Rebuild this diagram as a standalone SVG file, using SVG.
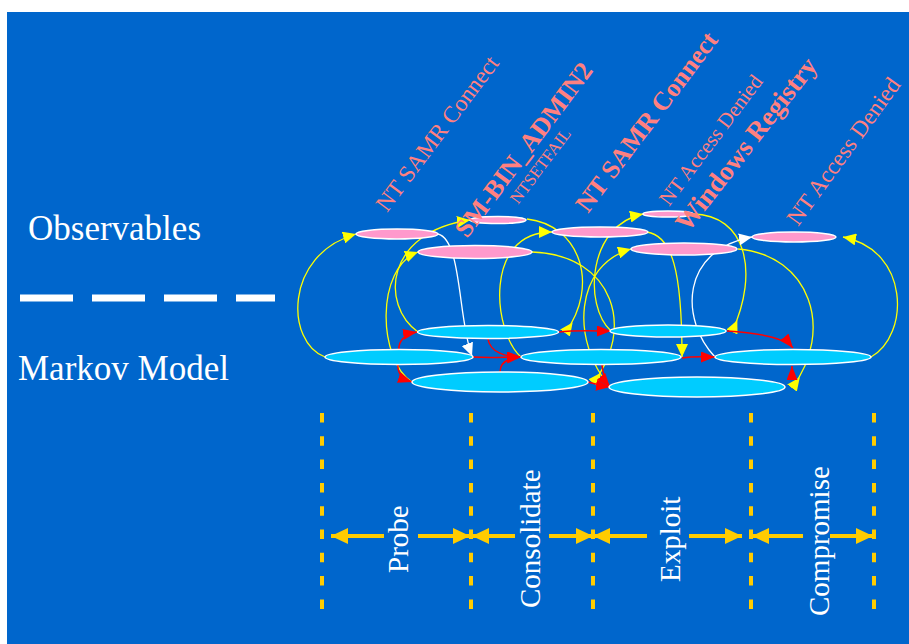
<svg xmlns="http://www.w3.org/2000/svg" width="909" height="644" viewBox="0 0 909 644">
<defs>
<style>
.st{fill:#00CCFF;stroke:#FFFFFF;stroke-width:1.5}
.ob{fill:#FF99CC;stroke:#FFFFFF;stroke-width:1.5}
.y{fill:none;stroke:#FFFF00;stroke-width:1.3}
.r{fill:none;stroke:#FF0000;stroke-width:1.5}
.w{fill:none;stroke:#FFFFFF;stroke-width:1.3}
.lbl{font-family:"Liberation Serif","Times New Roman",serif;fill:#FF8080}
.bl{font-weight:bold}
.side{font-family:"Liberation Serif","Times New Roman",serif;fill:#FFFFFF;font-size:35px}
.ph{font-family:"Liberation Serif","Times New Roman",serif;fill:#FFFFFF;font-size:29px}
.vd{stroke:#FFCC00;stroke-width:4;stroke-dasharray:9.5 13.8;fill:none}
.ha{stroke:#FFCC00;stroke-width:4;fill:none}
</style>
<marker id="my" viewBox="0 0 13 12" refX="13" refY="6" markerWidth="13" markerHeight="12" orient="auto" markerUnits="userSpaceOnUse"><path d="M0,0 L13,6 L0,12 z" fill="#FFFF00"/></marker>
<marker id="mys" viewBox="0 0 13 12" refX="0" refY="6" markerWidth="13" markerHeight="12" orient="auto" markerUnits="userSpaceOnUse"><path d="M0,0 L13,6 L0,12 z" fill="#FFFF00"/></marker>
<marker id="mr" viewBox="0 0 14 11" refX="14" refY="5.5" markerWidth="14" markerHeight="11" orient="auto" markerUnits="userSpaceOnUse"><path d="M0,0 L14,5.5 L0,11 z" fill="#FF0000"/></marker>
<marker id="mw" viewBox="0 0 13 12" refX="13" refY="6" markerWidth="13" markerHeight="12" orient="auto" markerUnits="userSpaceOnUse"><path d="M0,0 L13,6 L0,12 z" fill="#FFFFFF"/></marker>
<marker id="mo" viewBox="0 0 17 16" refX="17" refY="8" markerWidth="17" markerHeight="16" orient="auto" markerUnits="userSpaceOnUse"><path d="M0,0 L17,8 L0,16 z" fill="#FFCC00"/></marker>
</defs>
<rect x="0" y="0" width="909" height="644" fill="#FFFFFF"/>
<rect x="7" y="12" width="902" height="632" fill="#0066CC"/>

<g id="side-labels">
<text class="side" x="28" y="240">Observables</text>
<line x1="20" y1="298" x2="275" y2="298" stroke="#FFFFFF" stroke-width="7" stroke-dasharray="53 19"/>
<text class="side" x="18" y="380">Markov Model</text>
</g>

<g id="connectors">
<!-- yellow emission links -->
<path class="y" d="M325,357 C286,343 283,255 356,234" marker-end="url(#my)"/>
<path class="y" d="M418,332 C380,305 385,232 470,220" marker-end="url(#my)"/>
<path class="y" d="M412,382 C378,360 375,268 418,252" marker-end="url(#my)"/>
<path class="y" d="M521,357 C493,332 483,232 552,232" marker-end="url(#my)"/>
<path class="y" d="M611,331 C583,305 588,225 643,214" marker-end="url(#my)"/>
<path class="y" d="M610,387 C570,340 575,265 631,249" marker-end="url(#my)"/>
<path class="y" d="M871,357 C910,335 910,250 843,237" marker-end="url(#my)"/>
<path class="y" d="M647,232 C672,236 682,270 682,357" marker-end="url(#my)"/>
<path class="y" d="M565,333 C600,285 580,225 527,219" marker-start="url(#mys)"/>
<path class="y" d="M593,383 C635,330 615,255 532,252" marker-start="url(#mys)"/>
<path class="y" d="M732,332 C760,270 745,215 693,214" marker-start="url(#mys)"/>
<path class="y" d="M792,388 C835,330 810,255 738,249" marker-start="url(#mys)"/>
<!-- white links -->
<path class="w" d="M438,234 C462,240 458,320 472,356" marker-end="url(#mw)"/>
<path class="w" d="M715,357 C680,320 680,250 752,237" marker-end="url(#mw)"/>
<!-- red transitions -->
<path class="r" d="M399,350 C398,341 405,334 417,332" marker-end="url(#mr)"/>
<path class="r" d="M398,364 C397,373 403,379 412,382" marker-end="url(#mr)"/>
<path class="r" d="M473,357 C490,358 505,357 521,357" marker-end="url(#mr)"/>
<path class="r" d="M488,339 C490,352 505,357 521,357" marker-end="url(#mr)"/>
<path class="r" d="M500,372 C500,362 508,358 521,357" marker-end="url(#mr)"/>
<path class="r" d="M559,332 C575,330 595,331 611,331" marker-end="url(#mr)"/>
<path class="r" d="M588,382 C595,384 602,386 610,387" marker-end="url(#mr)"/>
<path class="r" d="M602,365 C603,372 604,380 610,387" marker-end="url(#mr)"/>
<path class="r" d="M682,358 C695,356 705,357 715,357" marker-end="url(#mr)"/>
<path class="r" d="M727,331 C760,333 785,338 793,348" marker-end="url(#mr)"/>
<path class="r" d="M792,380 L792,366" marker-end="url(#mr)"/>
</g>

<g id="state-A1"><ellipse class="st" cx="399" cy="357" rx="74" ry="7.5"/></g>
<g id="state-A2"><ellipse class="st" cx="488" cy="332" rx="70.5" ry="6.5"/></g>
<g id="state-A3"><ellipse class="st" cx="500" cy="382" rx="88" ry="10"/></g>
<g id="state-B1"><ellipse class="st" cx="601" cy="357" rx="80" ry="7.5"/></g>
<g id="state-B2"><ellipse class="st" cx="668" cy="331" rx="58" ry="6"/></g>
<g id="state-B3"><ellipse class="st" cx="697" cy="387" rx="88" ry="10"/></g>
<g id="state-C1"><ellipse class="st" cx="793" cy="357" rx="78" ry="7.5"/></g>

<g id="obs-P1"><ellipse class="ob" cx="397" cy="234" rx="41" ry="5"/></g>
<g id="obs-P2"><ellipse class="ob" cx="498" cy="220" rx="28" ry="3.5"/></g>
<g id="obs-P3"><ellipse class="ob" cx="475" cy="252" rx="57" ry="6.5"/></g>
<g id="obs-P4"><ellipse class="ob" cx="600" cy="232" rx="48" ry="5"/></g>
<g id="obs-P5"><ellipse class="ob" cx="668" cy="214" rx="25" ry="3"/></g>
<g id="obs-P6"><ellipse class="ob" cx="684" cy="249" rx="53" ry="6"/></g>
<g id="obs-P7"><ellipse class="ob" cx="794" cy="237" rx="42" ry="5"/></g>

<g id="obs-labels">
<text class="lbl" font-size="23.5" transform="translate(387,213) rotate(-53)">NT SAMR Connect</text>
<text class="lbl bl" font-size="26" transform="translate(467,239) rotate(-53)">SM-BIN_ADMIN2</text>
<text class="lbl" font-size="17" transform="translate(518,205) rotate(-53)">NTSETFAIL</text>
<text class="lbl bl" font-size="26" transform="translate(588,214) rotate(-53)">NT SAMR Connect</text>
<text class="lbl" font-size="21" transform="translate(669,207) rotate(-53)">NT Access Denied</text>
<text class="lbl bl" font-size="27" transform="translate(688,233) rotate(-52)">Windows Registry</text>
<text class="lbl" font-size="23.5" transform="translate(798,227) rotate(-54)">NT Access Denied</text>
</g>

<g id="phases">
<line class="vd" x1="322" y1="413" x2="322" y2="611"/>
<line class="vd" x1="471" y1="413" x2="471" y2="611"/>
<line class="vd" x1="593" y1="413" x2="593" y2="611"/>
<line class="vd" x1="751" y1="413" x2="751" y2="611"/>
<line class="vd" x1="874" y1="413" x2="874" y2="611"/>
<line class="ha" x1="384" y1="536" x2="331" y2="536" marker-end="url(#mo)"/>
<line class="ha" x1="418" y1="536" x2="470" y2="536" marker-end="url(#mo)"/>
<line class="ha" x1="515" y1="536" x2="472" y2="536" marker-end="url(#mo)"/>
<line class="ha" x1="549" y1="536" x2="593" y2="536" marker-end="url(#mo)"/>
<line class="ha" x1="647" y1="536" x2="593" y2="536" marker-end="url(#mo)"/>
<line class="ha" x1="689" y1="536" x2="742" y2="536" marker-end="url(#mo)"/>
<line class="ha" x1="803" y1="536" x2="752" y2="536" marker-end="url(#mo)"/>
<line class="ha" x1="830" y1="536" x2="873" y2="536" marker-end="url(#mo)"/>
<text class="ph" transform="translate(408,573) rotate(-90)">Probe</text>
<text class="ph" transform="translate(540,608) rotate(-90)">Consolidate</text>
<text class="ph" transform="translate(680,582) rotate(-90)">Exploit</text>
<text class="ph" transform="translate(829,616) rotate(-90)">Compromise</text>
</g>
</svg>
